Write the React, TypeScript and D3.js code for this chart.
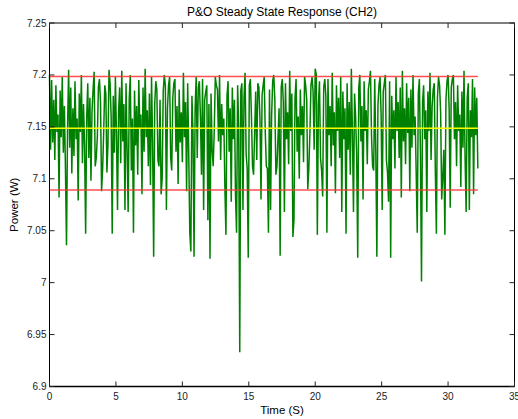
import React from "react";
import * as d3 from "d3";

const TITLE = "P&O Steady State Response (CH2)";
const X_LABEL = "Time (S)";
const Y_LABEL = "Power (W)";

const xTicks = [0, 5, 10, 15, 20, 25, 30, 35];
const yTicks = [6.9, 6.95, 7, 7.05, 7.1, 7.15, 7.2, 7.25];
const yTickLabels = ["6.9", "6.95", "7", "7.05", "7.1", "7.15", "7.2", "7.25"];

const SAMPLE_STEP = 0.08; // seconds between samples
const power = [
  7.200, 7.128, 7.195, 7.135, 7.176, 7.118, 7.190, 7.145, 7.162, 7.082, 7.185, 7.140, 7.198, 7.125, 7.170, 7.110, 7.036, 7.150, 7.205, 7.130,
  7.188, 7.105, 7.168, 7.122, 7.194, 7.138, 7.158, 7.079, 7.182, 7.145, 7.200, 7.115, 7.172, 7.132, 7.047, 7.160, 7.192, 7.120, 7.178, 7.098,
  7.165, 7.186, 7.203, 7.112, 7.120, 7.140, 7.188, 7.196, 7.174, 7.088, 7.110, 7.146, 7.190, 7.182, 7.106, 7.132, 7.205, 7.192, 7.160, 7.047,
  7.180, 7.125, 7.198, 7.142, 7.070, 7.165, 7.188, 7.115, 7.204, 7.136, 7.172, 7.070, 7.192, 7.128, 7.068, 7.176, 7.200, 7.108, 7.158, 7.048,
  7.185, 7.132, 7.170, 7.104, 7.195, 7.148, 7.162, 7.085, 7.188, 7.126, 7.206, 7.140, 7.166, 7.112, 7.182, 7.094, 7.198, 7.135, 7.025, 7.172,
  7.194, 7.186, 7.118, 7.112, 7.176, 7.085, 7.100, 7.184, 7.200, 7.190, 7.070, 7.168, 7.190, 7.198, 7.120, 7.108, 7.178, 7.192, 7.196, 7.126,
  7.170, 7.095, 7.186, 7.135, 7.164, 7.116, 7.202, 7.140, 7.174, 7.088, 7.192, 7.124, 7.048, 7.030, 7.180, 7.145, 7.025, 7.168, 7.198, 7.120,
  7.188, 7.194, 7.160, 7.104, 7.196, 7.070, 7.176, 7.184, 7.190, 7.060, 7.172, 7.023, 7.182, 7.128, 7.112, 7.146, 7.198, 7.190, 7.186, 7.136,
  7.200, 7.118, 7.172, 7.142, 7.158, 7.092, 7.046, 7.180, 7.194, 7.126, 7.168, 7.078, 7.188, 7.138, 7.176, 7.084, 7.048, 7.190, 7.150, 6.933,
  7.185, 7.192, 7.070, 7.178, 7.202, 7.124, 7.110, 7.024, 7.190, 7.196, 7.160, 7.112, 7.104, 7.144, 7.184, 7.118, 7.192, 7.188, 7.158, 7.080,
  7.180, 7.190, 7.198, 7.145, 7.112, 7.110, 7.048, 7.186, 7.070, 7.162, 7.194, 7.200, 7.176, 7.104, 7.112, 7.140, 7.168, 7.026, 7.188, 7.196,
  7.174, 7.068, 7.192, 7.138, 7.164, 7.114, 7.204, 7.146, 7.182, 7.044, 7.060, 7.178, 7.196, 7.126, 7.160, 7.100, 7.186, 7.142, 7.170, 7.116,
  7.198, 7.190, 7.176, 7.090, 7.110, 7.144, 7.190, 7.198, 7.184, 7.128, 7.206, 7.200, 7.046, 7.172, 7.194, 7.120, 7.108, 7.083, 7.188, 7.196,
  7.180, 7.048, 7.196, 7.142, 7.170, 7.112, 7.202, 7.132, 7.164, 7.086, 7.190, 7.146, 7.178, 7.120, 7.198, 7.068, 7.184, 7.138, 7.168, 7.047,
  7.192, 7.128, 7.174, 7.104, 7.206, 7.144, 7.068, 7.182, 7.160, 7.122, 7.024, 7.188, 7.200, 7.136, 7.170, 7.080, 7.194, 7.146, 7.166, 7.114,
  7.186, 7.194, 7.204, 7.140, 7.112, 7.108, 7.196, 7.126, 7.025, 7.170, 7.190, 7.198, 7.162, 7.070, 7.184, 7.192, 7.200, 7.118, 7.106, 7.078,
  7.194, 7.024, 7.180, 7.138, 7.166, 7.110, 7.198, 7.146, 7.174, 7.120, 7.188, 7.082, 7.204, 7.136, 7.168, 7.114, 7.192, 7.144, 7.178, 7.088,
  7.186, 7.130, 7.200, 7.142, 7.160, 7.106, 7.048, 7.182, 7.196, 7.124, 7.001, 7.174, 7.190, 7.138, 7.166, 7.068, 7.184, 7.146, 7.202, 7.118,
  7.170, 7.186, 7.192, 7.108, 7.047, 7.178, 7.198, 7.190, 7.164, 7.080, 7.102, 7.128, 7.046, 7.176, 7.194, 7.200, 7.168, 7.072, 7.188, 7.196,
  7.200, 7.138, 7.174, 7.112, 7.190, 7.146, 7.162, 7.092, 7.184, 7.130, 7.204, 7.120, 7.068, 7.178, 7.192, 7.070, 7.166, 7.140, 7.196, 7.085,
  7.188, 7.142, 7.178, 7.110,
];

// Reference lines: upper bound, mean, lower bound
const upperBound = 7.1985;
const meanLevel = 7.1487;
const lowerBound = 7.0892;

const W = 518;
const H = 419;
const FONT = "'Liberation Sans', Arial, Helvetica, sans-serif";

export default function App() {
  const x = d3.scaleLinear().domain([0, 35]).range([49.5, 514.5]);
  const y = d3.scaleLinear().domain([6.9, 7.25]).range([386.5, 23]);
  const data = power.map((v, i) => ({ t: i * SAMPLE_STEP, v }));
  const tEnd = (power.length - 1) * SAMPLE_STEP;
  const line = d3
    .line<{ t: number; v: number }>()
    .x((d) => x(d.t))
    .y((d) => y(d.v));

  const [x0, x1] = x.range();
  const [y0, y1] = y.range();
  const tl = 5;

  return (
    <svg
      width={W}
      height={H}
      style={{ position: "absolute", left: 0, top: 0, background: "#fff" }}
      fontFamily={FONT}
    >
      <rect x={0} y={0} width={W} height={H} fill="#fff" />
      <path d={line(data) || ""} fill="none" stroke="#008000" strokeWidth={1.5} strokeLinejoin="miter" strokeMiterlimit={2} />
      {[upperBound, lowerBound].map((b, i) => (
        <line key={i} x1={x(0)} x2={x(tEnd)} y1={y(b)} y2={y(b)} stroke="#ff3333" strokeWidth={1.4} strokeOpacity={0.85} />
      ))}
      <line x1={x(0)} x2={x(tEnd)} y1={y(meanLevel)} y2={y(meanLevel)} stroke="#ffff00" strokeWidth={1.4} />

      {/* box */}
      <rect x={x0} y={y1} width={x1 - x0} height={y0 - y1} fill="none" stroke="#000" strokeWidth={1} />
      <line x1={x0} x2={x1} y1={y0} y2={y0} stroke="#000" strokeWidth={1.6} />

      {xTicks.map((t) => (
        <g key={"x" + t}>
          <line x1={x(t)} x2={x(t)} y1={y0} y2={y0 - tl} stroke="#222" />
          <line x1={x(t)} x2={x(t)} y1={y1} y2={y1 + tl} stroke="#222" />
          <text x={x(t)} y={y0 + 13} fontSize={10} textAnchor="middle" fill="#222">
            {t}
          </text>
        </g>
      ))}
      {yTicks.map((t, i) => (
        <g key={"y" + t}>
          <line x1={x0} x2={x0 + tl} y1={y(t)} y2={y(t)} stroke="#222" />
          <line x1={x1} x2={x1 - tl} y1={y(t)} y2={y(t)} stroke="#222" />
          <text x={x0 - 3} y={y(t) + 3.5} fontSize={10} textAnchor="end" fill="#222">
            {yTickLabels[i]}
          </text>
        </g>
      ))}

      <text x={(x0 + x1) / 2} y={16} fontSize={12} textAnchor="middle" fill="#000">
        {TITLE}
      </text>
      <text x={(x0 + x1) / 2} y={414} fontSize={11.5} textAnchor="middle" fill="#000">
        {X_LABEL}
      </text>
      <text
        transform={`translate(18, ${(y0 + y1) / 2}) rotate(-90)`}
        fontSize={11.5}
        textAnchor="middle"
        fill="#000"
      >
        {Y_LABEL}
      </text>
    </svg>
  );
}
